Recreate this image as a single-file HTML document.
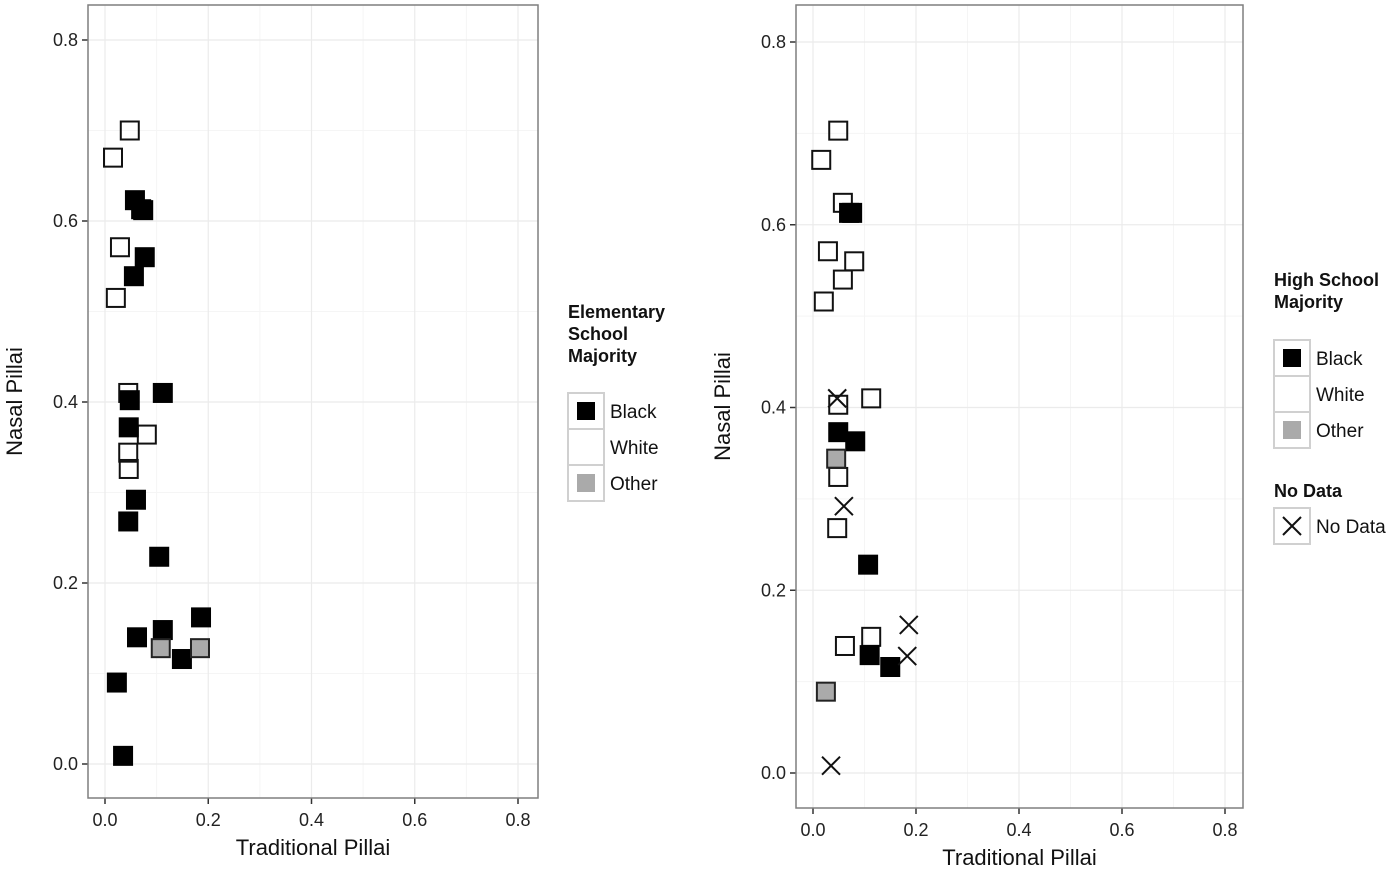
<!DOCTYPE html>
<html><head><meta charset="utf-8"><style>
body{margin:0;background:#fff;}
svg text{font-family:"Liberation Sans",Arial,sans-serif;}
</style></head><body>
<svg id="c" width="1400" height="871" xmlns="http://www.w3.org/2000/svg"></svg>
<script>
// Left panel data (Elementary School Majority)
const leftWhiteX=[0.0155,0.048,0.029,0.021,0.045,0.081,0.045,0.046];
const leftWhiteY=[0.67,0.70,0.571,0.515,0.41,0.364,0.344,0.326];
const leftBlackX=[0.058,0.07,0.074,0.077,0.056,0.112,0.048,0.046,0.06,0.045,0.105,0.186,0.112,0.062,0.149,0.023,0.035];
const leftBlackY=[0.623,0.613,0.612,0.56,0.539,0.41,0.402,0.372,0.292,0.268,0.229,0.162,0.148,0.14,0.116,0.09,0.009];
const leftOtherX=[0.108,0.184];
const leftOtherY=[0.128,0.128];
// Right panel data (High School Majority)
const rightWhiteX=[0.016,0.049,0.058,0.029,0.021,0.080,0.058,0.049,0.113,0.049,0.047,0.113,0.062];
const rightWhiteY=[0.671,0.703,0.624,0.571,0.516,0.56,0.54,0.403,0.41,0.324,0.268,0.149,0.139];
const rightBlackX=[0.07,0.076,0.049,0.082,0.107,0.11,0.15];
const rightBlackY=[0.613,0.613,0.373,0.363,0.228,0.129,0.116];
const rightOtherX=[0.045,0.025];
const rightOtherY=[0.344,0.089];
const rightNoDataX=[0.047,0.06,0.186,0.183,0.035];
const rightNoDataY=[0.41,0.292,0.162,0.128,0.008];
const tickVals=[0,0.2,0.4,0.6,0.8];
const tickLabels=["0.0","0.2","0.4","0.6","0.8"];

const svg=document.getElementById('c');
const NS='http://www.w3.org/2000/svg';
function mk(tag,attrs,parent){const e=document.createElementNS(NS,tag);for(const k in attrs)e.setAttribute(k,attrs[k]);(parent||svg).appendChild(e);return e;}

function panel(p){
  const g=mk('g',{});
  
  
  const sx=v=>p.x0+v*(p.x8-p.x0)/0.8, sy=v=>p.y0-v*(p.y0-p.y8)/0.8;
  for(let v=0.1;v<0.8;v+=0.2){
    mk('line',{x1:sx(v),x2:sx(v),y1:p.top,y2:p.bot,stroke:'#f5f5f5','stroke-width':1},g);
    mk('line',{x1:p.left,x2:p.right,y1:sy(v),y2:sy(v),stroke:'#f5f5f5','stroke-width':1},g);
  }
  tickVals.forEach((v,i)=>{
    mk('line',{x1:sx(v),x2:sx(v),y1:p.top,y2:p.bot,stroke:'#ebebeb','stroke-width':1.2},g);
    mk('line',{x1:p.left,x2:p.right,y1:sy(v),y2:sy(v),stroke:'#ebebeb','stroke-width':1.2},g);
    const tx=mk('line',{x1:sx(v),x2:sx(v),y1:p.bot,y2:p.bot+6,stroke:'#333','stroke-width':1.5},g);
    
    
    mk('line',{x1:p.left-6,x2:p.left,y1:sy(v),y2:sy(v),stroke:'#333','stroke-width':1.5},g);
    const xl=mk('text',{x:sx(v),y:p.bot+28,'text-anchor':'middle','font-size':18,fill:'#222'},g);
    xl.textContent=tickLabels[i];
    
    
    const yl=mk('text',{x:p.left-10,y:sy(v)+6,'text-anchor':'end','font-size':18,fill:'#222'},g);
    yl.textContent=tickLabels[i];
    
    
  });
  mk('rect',{x:p.left,y:p.top,width:p.right-p.left,height:p.bot-p.top,fill:'none',stroke:'#7f7f7f','stroke-width':1.5},g);
  const xt=mk('text',{x:(p.left+p.right)/2,y:p.bot+57,'text-anchor':'middle','font-size':22,fill:'#111'},g);
  xt.textContent='Traditional Pillai';
  
  
  const yt=mk('text',{x:0,y:0,'text-anchor':'middle','font-size':22,fill:'#111',transform:`translate(${p.left-66},${(p.top+p.bot)/2}) rotate(-90)`},g);
  yt.textContent='Nasal Pillai';
  
  
  const S=18;
  function sq(xs,ys,fill,stroke,name){
    xs.forEach((v,i)=>{
      const r=mk('rect',{x:sx(v)-S/2,y:sy(ys[i])-S/2,width:S,height:S,fill:fill,stroke:stroke,'stroke-width':2},g);
      
      
    });
  }
  sq(p.wx,p.wy,'none','#111','point-white');
  sq(p.bx,p.by,'#000','#000','point-black');
  sq(p.ox,p.oy,'#aaa','#222','point-other');
  if(p.nx){p.nx.forEach((v,i)=>{
    const cx=sx(v),cy=sy(p.ny[i]),h=9;
    const e=mk('path',{d:`M${cx-h} ${cy-h}L${cx+h} ${cy+h}M${cx-h} ${cy+h}L${cx+h} ${cy-h}`,stroke:'#111','stroke-width':2,fill:'none'},g);
    
    
  });}
}
panel({name:'elementary-panel',left:88,right:538,top:5,bot:798,x0:105,x8:518,y0:764,y8:40,
  wx:leftWhiteX,wy:leftWhiteY,bx:leftBlackX,by:leftBlackY,ox:leftOtherX,oy:leftOtherY});
panel({name:'high-school-panel',left:796,right:1243,top:5,bot:808,x0:813,x8:1225,y0:773,y8:42,
  wx:rightWhiteX,wy:rightWhiteY,bx:rightBlackX,by:rightBlackY,ox:rightOtherX,oy:rightOtherY,nx:rightNoDataX,ny:rightNoDataY});

function legend(x,y,titles,name){
  const g=mk('g',{});
  
  
  titles.forEach((t,i)=>{const e=mk('text',{x:x,y:y+i*22,'font-size':18,'font-weight':'bold',fill:'#111'},g);e.textContent=t;});
  return g;
}
function keys(g,x,y,items){
  items.forEach((it,i)=>{
    const ky=y+i*36;
    const k=mk('rect',{x:x,y:ky,width:36,height:36,fill:'#fff',stroke:'#d0d0d0','stroke-width':2},g);
    
    
    if(it.f) mk('rect',{x:x+9,y:ky+9,width:18,height:18,fill:it.f},g);
    if(it.x) mk('path',{d:`M${x+9} ${ky+9}L${x+27} ${ky+27}M${x+9} ${ky+27}L${x+27} ${ky+9}`,stroke:'#111','stroke-width':2},g);
    const t=mk('text',{x:x+42,y:ky+25,'font-size':19,fill:'#111'},g);
    t.textContent=it.l;
    
    
  });
}
const g1=legend(568,318,['Elementary','School','Majority'],'legend-elementary');
keys(g1,568,393,[{l:'Black',f:'#000'},{l:'White'},{l:'Other',f:'#aaa'}]);
const g2=legend(1274,286,['High School',' Majority'],'legend-high-school');
keys(g2,1274,340,[{l:'Black',f:'#000'},{l:'White'},{l:'Other',f:'#aaa'}]);
const t3=mk('text',{x:1274,y:497,'font-size':18,'font-weight':'bold',fill:'#111'},g2);t3.textContent='No Data';
keys(g2,1274,508,[{l:'No Data',x:true}]);
</script>
</body></html>
